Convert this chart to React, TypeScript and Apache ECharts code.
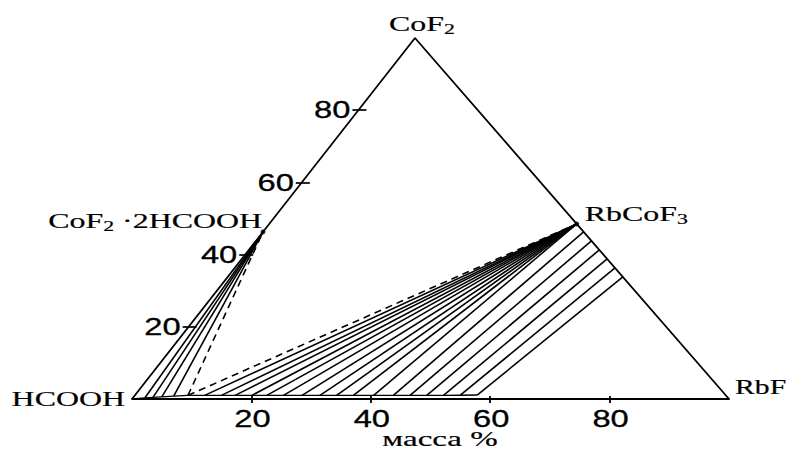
import { useEffect, useRef } from "react";
import * as echarts from "echarts";

// Compositions are [RbF mass %, CoF2 mass %]; HCOOH makes up the remainder.
type Comp = [number, number];

const vertexHCOOH: Comp = [0, 0];
const vertexRbF: Comp = [100, 0];
const vertexCoF2: Comp = [0, 100];

const formateSolid: Comp = [0, 46.3]; // CoF2·2HCOOH
const rbcof3Solid: Comp = [51.5, 48.5]; // RbCoF3
const eutecticPoint: Comp = [8.9, 1.0];

// liquid compositions tied to CoF2·2HCOOH
const formateLiquid: Comp[] = [
  [2.0, 0.3],
  [3.3, 0.45],
  [4.7, 0.6],
  [6.6, 0.8],
];

// liquid compositions tied to RbCoF3
const rbcof3Liquid: Comp[] = [
  [11.7, 1.0],
  [14.5, 1.0],
  [16.8, 1.0],
  [19.6, 1.0],
  [22.1, 1.0],
  [24.9, 1.0],
  [28.0, 1.0],
  [31.0, 1.0],
  [33.8, 1.0],
  [36.6, 1.0],
  [40.0, 1.0],
];

// liquid / solid-solution pairs on the RbF-rich side of RbCoF3
const solidSolutionLiquid: Comp[] = [
  [43.3, 1.0],
  [46.1, 1.0],
  [48.9, 1.0],
  [51.7, 1.0],
  [54.5, 1.05],
  [57.3, 1.1],
];
const solidSolutionSolid: Comp[] = [
  [53.7, 46.3],
  [56.2, 43.8],
  [58.7, 41.3],
  [61.2, 38.8],
  [63.7, 36.3],
  [66.2, 33.8],
];

const baseTicks = [20, 40, 60, 80];
const sideTicks = [20, 40, 60, 80];

// horizontal position of the CoF2 apex as a share of the RbF base
const APEX_SHIFT = 0.474;
const toPlot = ([r, c]: Comp): number[] => [r + APEX_SHIFT * c, c];

const SERIF = "'Liberation Serif', 'Times New Roman', serif";
const SANS = "'Liberation Sans', Arial, sans-serif";
const INK = "#000";

const seg = (a: Comp, b: Comp) => ({ coords: [toPlot(a), toPlot(b)] });

export default function App() {
  const ref = useRef<HTMLDivElement>(null);

  useEffect(() => {
    const el = ref.current;
    if (!el) return;
    const chart = echarts.init(el, null, { renderer: "svg" });

    const liquidCurve = [
      vertexHCOOH,
      ...formateLiquid,
      eutecticPoint,
      ...rbcof3Liquid,
      ...solidSolutionLiquid,
    ].map(toPlot);

    const solidTies = [
      ...formateLiquid.map((p) => seg(p, formateSolid)),
      ...rbcof3Liquid.map((p) => seg(p, rbcof3Solid)),
      ...solidSolutionLiquid.map((p, i) => seg(p, solidSolutionSolid[i])),
    ];

    const dashedTies = [seg(eutecticPoint, formateSolid), seg(eutecticPoint, rbcof3Solid)];

    // short horizontal marks on the HCOOH–CoF2 side
    const sideTickMarks = sideTicks.map((v) => {
      const [x, y] = toPlot([0, v]);
      return { coords: [[x - 1.0, y], [x + 1.35, y]] };
    });

    chart.setOption({
      animation: false,
      backgroundColor: "#fff",
      grid: { left: 132, right: 62, top: 38, bottom: 51, containLabel: false },
      xAxis: [
        {
          type: "value",
          min: 0,
          max: 100,
          interval: 20,
          position: "bottom",
          axisLine: { show: true, onZero: false, lineStyle: { color: INK, width: 1.8 } },
          axisTick: { show: true, customValues: baseTicks, length: 4, lineStyle: { color: INK, width: 1.8 } },
          axisLabel: { show: false },
          splitLine: { show: false },
        },
        {
          type: "value",
          min: 0,
          max: 100,
          interval: 20,
          position: "bottom",
          axisLine: { show: false },
          axisTick: { show: true, inside: true, customValues: baseTicks, length: 3, lineStyle: { color: INK, width: 1.8 } },
          axisLabel: { show: false },
          splitLine: { show: false },
        },
      ],
      yAxis: { type: "value", min: 0, max: 100, show: false },
      series: [
        {
          type: "line",
          name: "sides",
          data: [vertexHCOOH, vertexCoF2, vertexRbF].map(toPlot),
          symbol: "none",
          clip: false,
          lineStyle: { color: INK, width: 1.8 },
        },
        {
          type: "line",
          name: "liquid",
          data: liquidCurve,
          symbol: "none",
          clip: false,
          lineStyle: { color: INK, width: 1.4 },
        },
        {
          type: "lines",
          coordinateSystem: "cartesian2d",
          data: solidTies,
          clip: false,
          lineStyle: { color: INK, width: 1.6, opacity: 1 },
        },
        {
          type: "lines",
          coordinateSystem: "cartesian2d",
          data: dashedTies,
          clip: false,
          lineStyle: { color: INK, width: 1.6, opacity: 1, type: [7, 5] },
        },
        {
          type: "lines",
          coordinateSystem: "cartesian2d",
          data: sideTickMarks,
          clip: false,
          lineStyle: { color: INK, width: 1.7, opacity: 1 },
        },
        {
          type: "scatter",
          data: [formateSolid, rbcof3Solid].map(toPlot),
          symbol: "circle",
          symbolSize: 5,
          clip: false,
          itemStyle: { color: INK },
        },
      ],
    });

    const px = (c: Comp) =>
      chart.convertToPixel({ xAxisIndex: 0, yAxisIndex: 0 }, toPlot(c)) as number[];

    const serifText = (text: string, x: number, y: number, align: string, sx = 1.45) => ({
      type: "text",
      x,
      y,
      scaleX: sx,
      silent: true,
      style: {
        text,
        fill: INK,
        stroke: INK,
        lineWidth: 0.2,
        fontSize: 22,
        fontFamily: SERIF,
        lineHeight: 24,
        textAlign: align,
        textVerticalAlign: "middle",
        rich: {
          s: { fontSize: 15, fontFamily: SERIF, lineHeight: 18, verticalAlign: "bottom" },
        },
      },
    });

    const numText = (text: string, x: number, y: number, align: string) => ({
      type: "text",
      x,
      y,
      scaleX: 1.42,
      silent: true,
      style: {
        text,
        fill: INK,
        stroke: INK,
        lineWidth: 0.3,
        fontSize: 23,
        fontFamily: SANS,
        textAlign: align,
        textVerticalAlign: "middle",
      },
    });

    const h = px(vertexHCOOH);
    const r = px(vertexRbF);
    const c = px(vertexCoF2);
    const f = px(formateSolid);
    const k = px(rbcof3Solid);

    const graphic: any[] = [
      serifText("HCOOH", h[0] - 7, h[1], "right"),
      serifText("RbF", r[0] + 6, r[1] - 12, "left", 1.35),
      serifText("CoF{s|2}", c[0] + 7, c[1] - 14, "center"),
      serifText("RbCoF{s|3}", k[0] + 8, k[1] - 10, "left"),
      serifText("CoF{s|2} ·2HCOOH", f[0] - 1, f[1] - 11, "right"),
      ...baseTicks.map((v) => {
        const p = px([v, 0]);
        return numText(String(v), p[0] + 1, p[1] + 20, "center");
      }),
      ...sideTicks.map((v) => {
        const p = px([0, v]);
        return numText(String(v), p[0] - 8, p[1], "right");
      }),
      {
        type: "text",
        x: 440,
        y: 439,
        scaleX: 1.5,
        silent: true,
        style: {
          text: "масса %",
          fill: INK,
          stroke: INK,
          lineWidth: 0.2,
          fontSize: 22,
          fontFamily: SERIF,
          textAlign: "center",
          textVerticalAlign: "middle",
        },
      },
    ];

    chart.setOption({ graphic });

    return () => chart.dispose();
  }, []);

  return (
    <div
      ref={ref}
      style={{ position: "absolute", left: 0, top: 0, width: 791, height: 450 }}
    />
  );
}
